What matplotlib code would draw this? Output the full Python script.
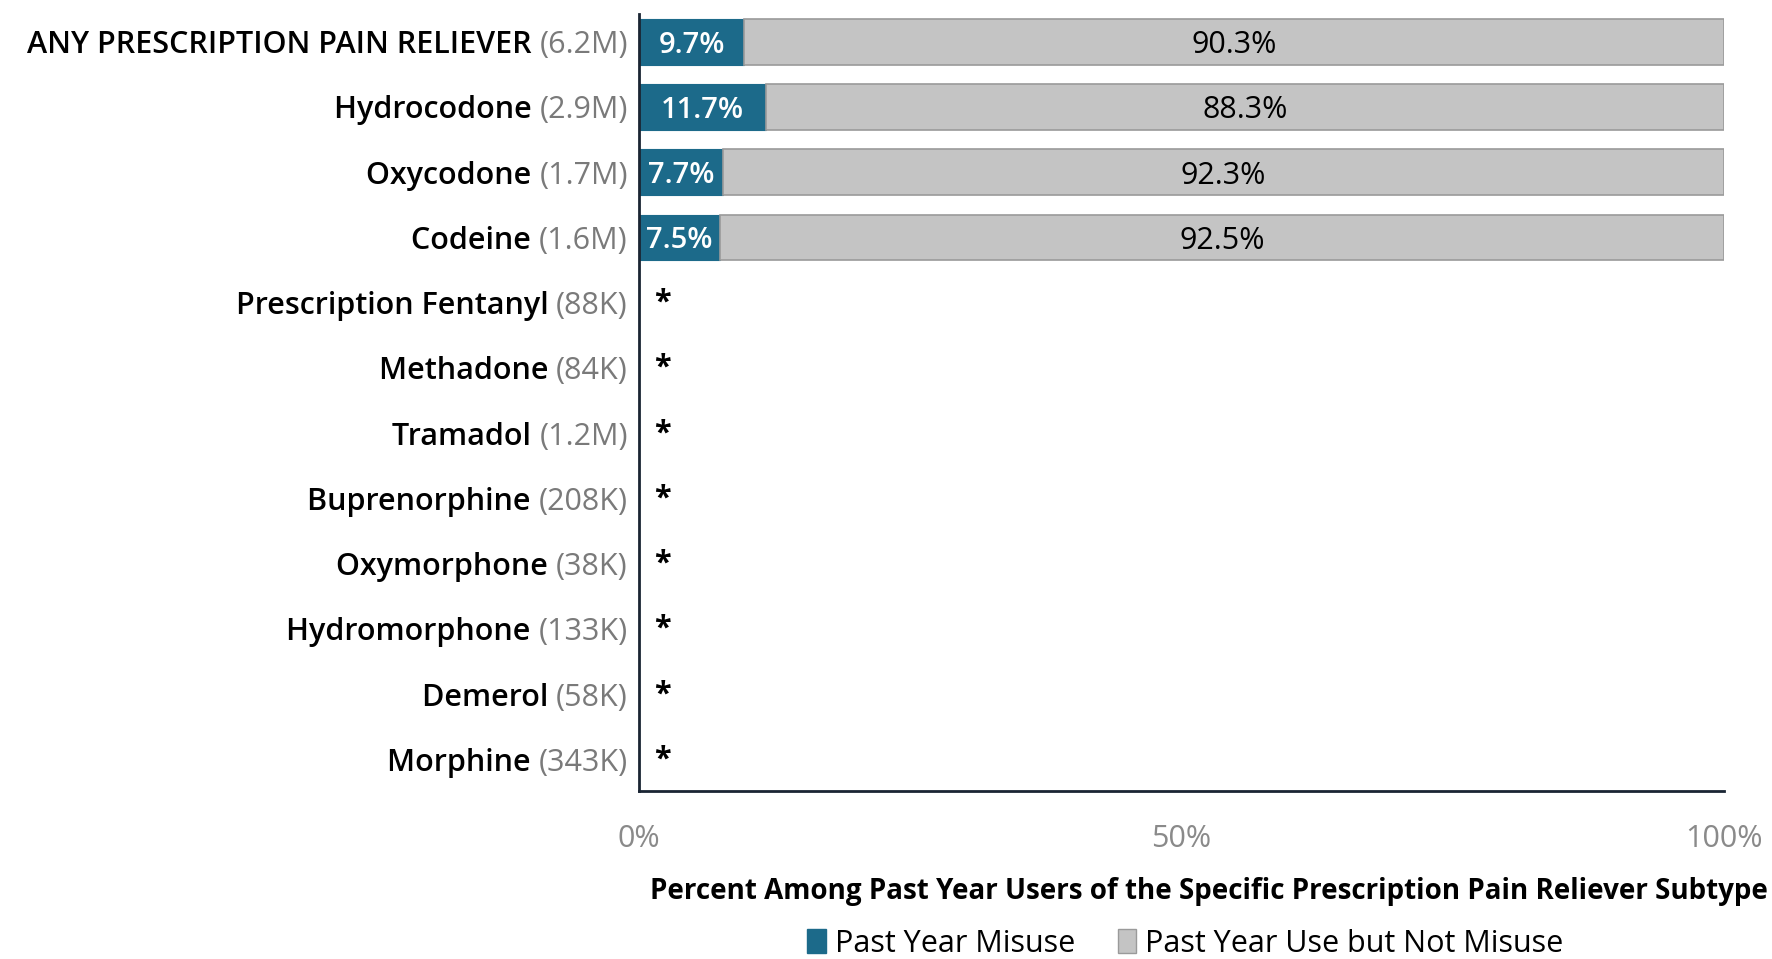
import numpy as np
import matplotlib
matplotlib.use("Agg")
import matplotlib.pyplot as plt
from matplotlib import font_manager

names = ["ANY PRESCRIPTION PAIN RELIEVER", "Hydrocodone", "Oxycodone", "Codeine",
         "Prescription Fentanyl", "Methadone", "Tramadol", "Buprenorphine",
         "Oxymorphone", "Hydromorphone", "Demerol", "Morphine"]
counts = ["(6.2M)", "(2.9M)", "(1.7M)", "(1.6M)", "(88K)", "(84K)", "(1.2M)",
          "(208K)", "(38K)", "(133K)", "(58K)", "(343K)"]
misuse = [9.7, 11.7, 7.7, 7.5]
no_misuse = [90.3, 88.3, 92.3, 92.5]
xticks = [0, 50, 100]
xticklabels = ["0%", "50%", "100%"]

fams = {f.name for f in font_manager.fontManager.ttflist}
font = "Open Sans" if "Open Sans" in fams else "DejaVu Sans"
plt.rcParams['font.family'] = [font, 'DejaVu Sans']

blue = "#1c6a8a"
grey = "#c4c4c4"

fig = plt.figure(figsize=(17.72, 9.59), dpi=100)
ax = fig.add_axes([0.3606, 0.1752, 0.9729 - 0.3606, 0.9858 - 0.1752])

y = np.arange(len(names))
yb = y[:len(misuse)]
ax.barh(yb, misuse, height=0.7, color=blue, edgecolor=blue, linewidth=0.8, zorder=2)
ax.barh(yb, no_misuse, left=misuse, height=0.7, color=grey, edgecolor="#9a9a9a",
        linewidth=1.2, zorder=2)

for i in range(len(misuse)):
    ax.text(misuse[i] / 2, yb[i], f"{misuse[i]}%", ha="center", va="center_baseline",
            color="white", fontsize=21, fontweight="semibold", zorder=3)
    ax.text(misuse[i] + no_misuse[i] / 2, yb[i], f"{no_misuse[i]}%", ha="center",
            va="center_baseline", color="black", fontsize=22, zorder=3)
for i in y[len(misuse):]:
    ax.text(1.4, i, "*", ha="left", va="center", fontsize=22, fontweight="bold",
            color="black")

ax.set_xlim(0, 100)
ax.set_ylim(11.485, -0.43)
ax.set_yticks([])
ax.set_xticks(xticks)
ax.set_xticklabels(xticklabels, fontsize=22, color="#8a8a8a")
ax.tick_params(axis="x", length=0, pad=24)

for s in ["top", "right"]:
    ax.spines[s].set_visible(False)
for s in ["left", "bottom"]:
    ax.spines[s].set_color("#1a2533")
    ax.spines[s].set_linewidth(2)

# category labels: name followed by grey count
for i in y:
    ct = ax.annotate(counts[i], xy=(0, i), xycoords=("axes fraction", "data"),
                     xytext=(-8, 0), textcoords="offset points",
                     ha="right", va="center_baseline", fontsize=22, color="#7a7a7a")
    ax.annotate(names[i] + " ", xy=(0, 0.5), xycoords=ct, ha="right", va="center",
                fontsize=22, fontweight="semibold", color="black")

ax.set_xlabel("Percent Among Past Year Users of the Specific Prescription Pain Reliever Subtype",
              fontsize=20, fontweight="bold", labelpad=16, x=0.525)

handles = [plt.Rectangle((0, 0), 1, 1, facecolor=blue, edgecolor=blue),
           plt.Rectangle((0, 0), 1, 1, facecolor=grey, edgecolor="#9a9a9a")]
fig.legend(handles, ["Past Year Misuse", "Past Year Use but Not Misuse"],
           loc="center", bbox_to_anchor=(0.669, 0.016), ncol=2, frameon=False,
           fontsize=22, handlelength=0.6, handleheight=0.8, handletextpad=0.3,
           columnspacing=1.4)

fig.savefig("out.png", dpi=100)
